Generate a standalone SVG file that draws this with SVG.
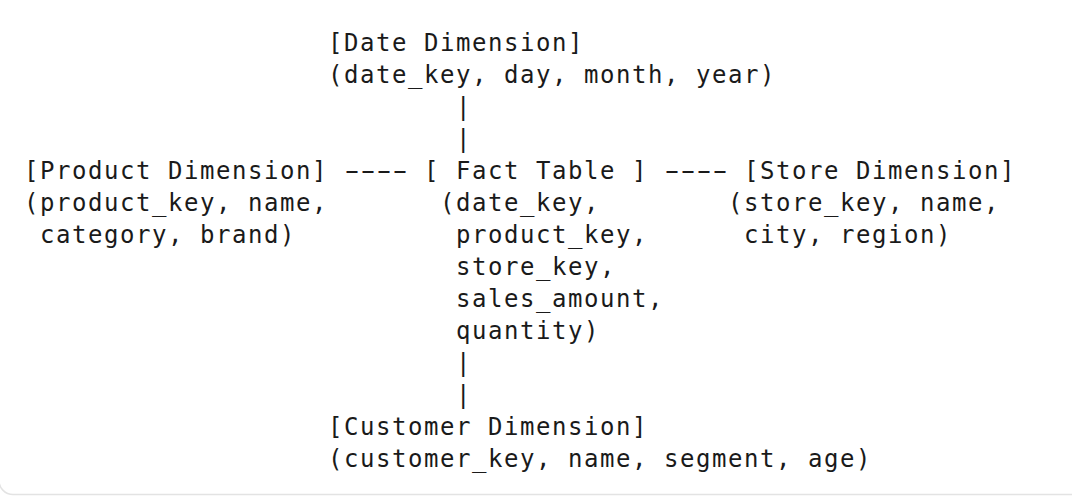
<svg xmlns="http://www.w3.org/2000/svg" width="1072" height="496" viewBox="0 0 1072 496">
<style>
text{font-family:"DejaVu Sans Mono","Liberation Mono",monospace;font-size:24px;letter-spacing:1.55px;fill:#1a1a1a;white-space:pre}
text.d{letter-spacing:-5.55px}
</style>
<rect x="0" y="0" width="1072" height="496" fill="#ffffff"/>
<rect x="-1" y="-60" width="1200" height="554.5" rx="14" fill="none" stroke="#e3e3e3" stroke-width="1.5"/>
<g id="date-dimension">
<text x="328" y="51">[Date Dimension]</text>
<text x="328" y="83">(date_key, day, month, year)</text>
</g>
<g id="product-dimension">
<text x="24" y="179">[Product Dimension]</text>
<text x="24" y="211">(product_key, name,</text>
<text x="24" y="243"> category, brand)</text>
</g>
<g id="fact-table">
<text x="424" y="179">[ Fact Table ]</text>
<text x="440" y="211">(date_key,</text>
<text x="456" y="243">product_key,</text>
<text x="456" y="275">store_key,</text>
<text x="456" y="307">sales_amount,</text>
<text x="456" y="339">quantity)</text>
</g>
<g id="store-dimension">
<text x="744" y="179">[Store Dimension]</text>
<text x="728" y="211">(store_key, name,</text>
<text x="744" y="243">city, region)</text>
</g>
<g id="customer-dimension">
<text x="328" y="435">[Customer Dimension]</text>
<text x="328" y="467">(customer_key, name, segment, age)</text>
</g>
<g id="connectors">
<text x="456" y="115">|</text>
<text x="456" y="147">|</text>
<text class="d" transform="translate(339,179) scale(1.8,1)">----</text>
<text class="d" transform="translate(659,179) scale(1.8,1)">----</text>
<text x="456" y="371">|</text>
<text x="456" y="403">|</text>
</g>
</svg>
